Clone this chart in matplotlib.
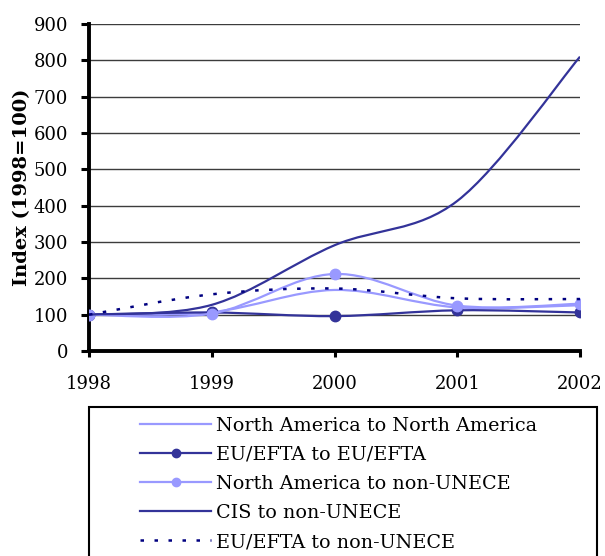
"""Freight index by trade flow, 1998-2002."""

import matplotlib.pyplot as plt
from matplotlib.lines import Line2D
from matplotlib.patches import PathPatch, Rectangle
from matplotlib.path import Path

years = [1998, 1999, 2000, 2001, 2002]

na_to_na = [100, 107, 168, 120, 126]
eu_to_eu = [100, 106, 96, 112, 106]
na_to_non = [100, 103, 212, 125, 130]
cis_to_non = [100, 127, 291, 413, 810]
eu_to_non = [100, 156, 172, 145, 143]

labels = [
    "North America to North America",
    "EU/EFTA to EU/EFTA",
    "North America to non-UNECE",
    "CIS to non-UNECE",
    "EU/EFTA to non-UNECE",
]

DARK = "#333399"
LIGHT = "#9999ff"
NAVY = "#000080"

plt.rcParams["font.family"] = ["DejaVu Serif"]


def smooth_path(xs, ys):
    """Bezier path through the points, same smoothing as a spreadsheet line."""
    pts = list(zip(xs, ys))
    verts = [pts[0]]
    codes = [Path.MOVETO]
    n = len(pts)
    for i in range(n - 1):
        p0 = pts[max(i - 1, 0)]
        p1 = pts[i]
        p2 = pts[i + 1]
        p3 = pts[min(i + 2, n - 1)]
        c1 = (p1[0] + (p2[0] - p0[0]) / 6, p1[1] + (p2[1] - p0[1]) / 6)
        c2 = (p2[0] - (p3[0] - p1[0]) / 6, p2[1] - (p3[1] - p1[1]) / 6)
        verts += [c1, c2, p2]
        codes += [Path.CURVE4] * 3
    return Path(verts, codes)


fig = plt.figure(figsize=(6.05, 5.56), dpi=100)
ax = fig.add_axes([89 / 605, 1 - 351 / 556, 491 / 605, 327 / 556])

series = [
    (na_to_na, LIGHT, "-", None),
    (eu_to_eu, DARK, "-", "o"),
    (na_to_non, LIGHT, "-", "o"),
    (cis_to_non, DARK, "-", None),
    (eu_to_non, NAVY, (0, (1.4, 4.2)), None),
]

handles = []
for i, (vals, color, ls, marker) in enumerate(series):
    lw = 1.8 if ls != "-" else 1.6
    ax.add_patch(PathPatch(smooth_path(years, vals), fill=False,
                           edgecolor=color, lw=lw, linestyle=ls,
                           zorder=3 + i, capstyle="butt"))
    if marker:
        ax.plot(years, vals, linestyle="none", marker=marker,
                color=color, markersize=7.5, zorder=3 + i)
    handles.append(Line2D([], [], color=color, lw=lw, linestyle=ls,
                          marker=marker, markersize=6))

ax.set_xlim(1998, 2002)
ax.set_ylim(0, 900)
ax.set_xticks(years)
ax.set_yticks(range(0, 901, 100))
ax.tick_params(labelsize=13, width=2.2, color="black")
ax.tick_params(axis="y", length=6, pad=9)
ax.tick_params(axis="x", length=4, pad=13)
ax.grid(axis="y", color="#3c3c3c", lw=1)
ax.set_axisbelow(True)
for side in ("top", "right"):
    ax.spines[side].set_visible(False)
for side in ("left", "bottom"):
    ax.spines[side].set_linewidth(2.8)
ax.set_ylabel("Index (1998=100)", fontsize=14, fontweight="bold")
ax.yaxis.set_label_coords(-0.118, 0.5)

# legend box runs off the bottom of the figure
fig.patches.append(Rectangle((89 / 605, -0.05), 508 / 605, 0.05 + 149 / 556,
                             transform=fig.transFigure, fill=False,
                             edgecolor="black", lw=1.5))
fig.legend(handles, labels, loc="upper left",
           bbox_to_anchor=(130 / 605, 1 - 407 / 556), frameon=False,
           fontsize=13.8, handlelength=3.75, handletextpad=0.26,
           labelspacing=0.58, borderpad=0)

fig.savefig("out.png", dpi=100)
